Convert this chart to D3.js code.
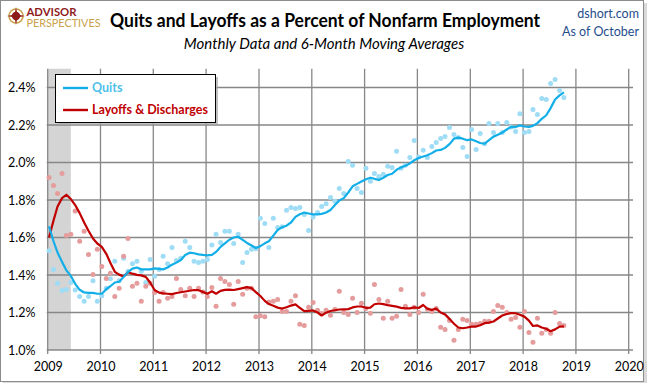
<!DOCTYPE html>
<html>
<head>
<meta charset="utf-8">
<script src="https://cdn.jsdelivr.net/npm/d3@7"></script>
<style>
  html, body { margin: 0; padding: 0; background: #fff; }
  svg { display: block; }
  text { font-family: Lato, "Open Sans", sans-serif; }
</style>
</head>
<body>
<svg id="chart" width="648" height="384"></svg>
<script>
// ---------------- DATA ----------------
const startYear = 2009, startMonth = 0;   // first observation: Jan 2009
const yearTicks = [2009, 2010, 2011, 2012, 2013, 2014, 2015, 2016, 2017, 2018, 2019, 2020];
const yTicks = [1.0, 1.2, 1.4, 1.6, 1.8, 2.0, 2.2, 2.4];
const recession = { start: [2009, 0], end: [2009, 5, 10] };

// Monthly quits rate (% of nonfarm employment)
const quitsMonthly = [
  1.53, 1.43, 1.356, 1.318, 1.323, 1.36, 1.32, 1.286, 1.26, 1.286, 1.37, 1.26,
  1.29, 1.33, 1.38, 1.473, 1.37, 1.49, 1.42, 1.46, 1.473, 1.42, 1.36, 1.483,
  1.393, 1.43, 1.50, 1.46, 1.547, 1.478, 1.49, 1.58, 1.547, 1.473, 1.467, 1.473,
  1.483, 1.56, 1.617, 1.574, 1.633, 1.633, 1.568, 1.617, 1.467, 1.52, 1.537, 1.54,
  1.703, 1.675, 1.547, 1.703, 1.654, 1.657, 1.745, 1.76, 1.755, 1.76, 1.723, 1.638,
  1.71, 1.734, 1.766, 1.78, 1.814, 1.793, 1.862, 1.835, 2.006, 1.985, 1.862, 1.84,
  1.969, 1.90, 1.942, 1.926, 1.937, 1.98, 1.974, 2.06, 1.969, 1.985, 2.027, 2.118,
  2.03, 2.065, 2.027, 2.086, 2.107, 2.128, 2.139, 2.187, 2.15, 2.133, 2.08, 2.032,
  2.176, 2.07, 2.155, 2.10, 2.208, 2.16, 2.208, 2.16, 2.213, 2.19, 2.166, 2.26,
  2.16, 2.166, 2.283, 2.256, 2.342, 2.336, 2.422, 2.443, 2.384, 2.347
];
// 6-month moving average of quits
const quitsAvg = [
  1.66, 1.58, 1.52, 1.47, 1.425, 1.395, 1.353, 1.321, 1.307, 1.305, 1.305, 1.30,
  1.30, 1.324, 1.34, 1.36, 1.364, 1.39, 1.415, 1.434, 1.44, 1.43, 1.43, 1.43,
  1.435, 1.433, 1.43, 1.44, 1.455, 1.466, 1.48, 1.507, 1.519, 1.516, 1.51, 1.507,
  1.505, 1.507, 1.523, 1.55, 1.569, 1.588, 1.60, 1.604, 1.587, 1.571, 1.557, 1.544,
  1.554, 1.569, 1.58, 1.61, 1.64, 1.655, 1.663, 1.68, 1.71, 1.724, 1.733, 1.728,
  1.723, 1.723, 1.726, 1.733, 1.747, 1.773, 1.797, 1.81, 1.84, 1.873, 1.886, 1.899,
  1.911, 1.919, 1.913, 1.907, 1.919, 1.933, 1.94, 1.961, 1.974, 1.983, 1.995, 2.012,
  2.024, 2.032, 2.039, 2.05, 2.064, 2.067, 2.078, 2.098, 2.127, 2.133, 2.127, 2.119,
  2.123, 2.113, 2.104, 2.10, 2.119, 2.138, 2.148, 2.16, 2.176, 2.19, 2.189, 2.198,
  2.192, 2.19, 2.195, 2.21, 2.233, 2.252, 2.29, 2.336, 2.358, 2.374
];
// Monthly layoffs & discharges rate
const layoffsMonthly = [
  1.92, 1.878, 1.835, 1.942, 1.611, 1.617, 1.741, 1.58, 1.633, 1.51, 1.403, 1.537,
  1.446, 1.382, 1.409, 1.286, 1.33, 1.50, 1.595, 1.34, 1.356, 1.26, 1.34, 1.356,
  1.307, 1.26, 1.307, 1.276, 1.286, 1.382, 1.323, 1.29, 1.33, 1.286, 1.33, 1.31,
  1.286, 1.334, 1.233, 1.382, 1.366, 1.35, 1.244, 1.366, 1.297, 1.33, 1.33, 1.178,
  1.183, 1.178, 1.256, 1.26, 1.27, 1.206, 1.206, 1.26, 1.29, 1.137, 1.131, 1.228,
  1.254, 1.212, 1.195, 1.212, 1.185, 1.217, 1.313, 1.20, 1.19, 1.276, 1.20, 1.249,
  1.222, 1.196, 1.35, 1.27, 1.169, 1.26, 1.169, 1.18, 1.323, 1.233, 1.19, 1.228,
  1.20, 1.297, 1.217, 1.206, 1.222, 1.121, 1.11, 1.158, 1.052, 1.11, 1.164, 1.158,
  1.137, 1.137, 1.142, 1.153, 1.153, 1.206, 1.238, 1.228, 1.20, 1.164, 1.174, 1.121,
  1.206, 1.094, 1.041, 1.169, 1.089, 1.11, 1.089, 1.20, 1.142, 1.131
];
// 6-month moving average of layoffs
const layoffsAvg = [
  1.60, 1.69, 1.765, 1.81, 1.828, 1.805, 1.773, 1.73, 1.68, 1.636, 1.595, 1.568,
  1.55, 1.513, 1.465, 1.417, 1.402, 1.392, 1.415, 1.407, 1.401, 1.398, 1.39, 1.36,
  1.32, 1.306, 1.302, 1.30, 1.298, 1.304, 1.308, 1.312, 1.316, 1.32, 1.319, 1.31,
  1.30, 1.313, 1.30, 1.315, 1.321, 1.322, 1.32, 1.325, 1.33, 1.335, 1.33, 1.309,
  1.288, 1.262, 1.245, 1.236, 1.226, 1.221, 1.228, 1.237, 1.243, 1.225, 1.207, 1.209,
  1.211, 1.20, 1.184, 1.199, 1.208, 1.212, 1.216, 1.217, 1.218, 1.227, 1.232, 1.232,
  1.225, 1.226, 1.244, 1.248, 1.245, 1.239, 1.235, 1.231, 1.225, 1.222, 1.222, 1.227,
  1.224, 1.24, 1.22, 1.214, 1.221, 1.20, 1.19, 1.166, 1.14, 1.12, 1.116, 1.12,
  1.125, 1.125, 1.132, 1.143, 1.146, 1.152, 1.168, 1.184, 1.192, 1.197, 1.196, 1.188,
  1.178, 1.157, 1.128, 1.131, 1.12, 1.113, 1.10, 1.11, 1.125, 1.126
];

const titleText = "Quits and Layoffs as a Percent of Nonfarm Employment";
const subtitleText = "Monthly Data and 6-Month Moving Averages";
const seriesNames = ["Quits", "Layoffs & Discharges"];

// ---------------- DRAWING ----------------
const svg = d3.select("#chart");
const plot = { left: 47.7, right: 633, top: 68.75, bottom: 350 };

const dateOf = i => new Date(startYear, startMonth + i, 10);

const x = d3.scaleTime()
  .domain([new Date(2009, 0, 1), new Date(2020, 0, 1)])
  .range([47.7, 628.7]);
const y = d3.scaleLinear().domain([1.0, 2.5]).range([plot.bottom, plot.top]);

const colors = {
  quitsLine: "#12aee8", quitsDot: "#9fdcf5", quitsText: "#4fbfea",
  layLine: "#c00000", layDot: "#e49c9c", layText: "#c00000",
  grid: "#878787"
};

// chart frame with shadow
svg.append("rect").attr("x", 3).attr("y", 3).attr("width", 644).attr("height", 380).attr("fill", "#d9d9d9");
svg.append("rect").attr("x", 0.5).attr("y", 0.5).attr("width", 643).attr("height", 381)
  .attr("fill", "#fff").attr("stroke", "#8c8c8c").attr("stroke-width", 1);

// Logo
const logo = svg.append("g");
const lc = { x: 16, y: 16 };
logo.append("circle").attr("cx", lc.x).attr("cy", lc.y).attr("r", 7)
  .attr("fill", "none").attr("stroke", "#c9a24a").attr("stroke-width", 1.6);
logo.append("circle").attr("cx", lc.x).attr("cy", lc.y).attr("r", 4.2).attr("fill", "#8e1b1b");
const star = [];
for (let k = 0; k < 8; k++) {
  const a = k * Math.PI / 4 - Math.PI / 2;
  const r = k % 2 === 0 ? 9 : 2;
  star.push([lc.x + r * Math.cos(a), lc.y + r * Math.sin(a)]);
}
logo.append("polygon").attr("points", star.map(p => p.join(",")).join(" ")).attr("fill", "#8e1b1b");
logo.append("text").attr("x", 26.5).attr("y", 15.5).text("ADVISOR")
  .attr("font-family", "'Liberation Sans', Arial, sans-serif")
  .attr("font-size", 11).attr("font-weight", 700).attr("fill", "#8e1b1b")
  .attr("textLength", 50).attr("lengthAdjust", "spacingAndGlyphs");
logo.append("text").attr("x", 26.5).attr("y", 27).text("PERSPECTIVES")
  .attr("font-family", "'Liberation Sans', Arial, sans-serif")
  .attr("font-size", 10.5).attr("font-weight", 400).attr("fill", "#c9a24a")
  .attr("textLength", 74).attr("lengthAdjust", "spacingAndGlyphs");

// Titles
svg.append("text").attr("x", 110).attr("y", 27).text(titleText)
  .attr("font-size", 19).attr("font-weight", 700).attr("fill", "#000")
  .attr("textLength", 430).attr("lengthAdjust", "spacingAndGlyphs");
svg.append("text").attr("x", 324).attr("y", 49).attr("text-anchor", "middle").text(subtitleText)
  .attr("font-size", 15).attr("font-style", "italic").attr("fill", "#000");
svg.append("text").attr("x", 639).attr("y", 18).attr("text-anchor", "end").text("dshort.com")
  .attr("font-size", 12.5).attr("fill", "#1f4e8c");
svg.append("text").attr("x", 639).attr("y", 36).attr("text-anchor", "end").text("As of October")
  .attr("font-size", 12.5).attr("fill", "#1f4e8c");

// Recession shading
svg.append("rect")
  .attr("x", x(new Date(...recession.start)))
  .attr("y", plot.top)
  .attr("width", x(new Date(...recession.end)) - x(new Date(...recession.start)))
  .attr("height", plot.bottom - plot.top)
  .attr("fill", "#d4d4d4");

// Gridlines
const grid = svg.append("g");
yTicks.forEach(v => {
  grid.append("line").attr("x1", plot.left - 1).attr("x2", plot.right)
    .attr("y1", y(v)).attr("y2", y(v)).attr("stroke", colors.grid).attr("stroke-width", 1.3);
});
yearTicks.forEach(yr => {
  const xx = x(new Date(yr, 0, 1));
  grid.append("line").attr("x1", xx).attr("x2", xx)
    .attr("y1", plot.top).attr("y2", plot.bottom + 4).attr("stroke", colors.grid).attr("stroke-width", 1.3);
});

// Axes labels
const yAxis = d3.axisLeft(y).tickValues(yTicks).tickFormat(d => d.toFixed(1) + "%").tickSize(0).tickPadding(0);
svg.append("g").attr("transform", `translate(35.5,0)`).call(yAxis)
  .call(g => g.select(".domain").remove())
  .call(g => g.selectAll("text").attr("font-size", 12.5).attr("fill", "#000").attr("font-family", "Lato, sans-serif").attr("dy", "0.35em"));

const xAxis = d3.axisBottom(x).tickValues(yearTicks.map(yr => new Date(yr, 0, 1)))
  .tickFormat(d3.timeFormat("%Y")).tickSize(0).tickPadding(0);
svg.append("g").attr("transform", `translate(0,${plot.bottom + 12})`).call(xAxis)
  .call(g => g.select(".domain").remove())
  .call(g => g.selectAll("text").attr("font-size", 12.5).attr("fill", "#000").attr("font-family", "Lato, sans-serif").attr("dy", "0.71em"));

// Dots
const dots = svg.append("g");
dots.selectAll(".qd").data(quitsMonthly).join("circle").attr("class", "qd")
  .attr("cx", (d, i) => x(dateOf(i))).attr("cy", d => y(d)).attr("r", 2.5).attr("fill", colors.quitsDot);
dots.selectAll(".ld").data(layoffsMonthly).join("circle").attr("class", "ld")
  .attr("cx", (d, i) => x(dateOf(i))).attr("cy", d => y(d)).attr("r", 2.5).attr("fill", colors.layDot);

// Lines
const line = d3.line().x((d, i) => x(dateOf(i))).y(d => y(d));
svg.append("path").datum(layoffsAvg).attr("d", line).attr("fill", "none")
  .attr("stroke", colors.layLine).attr("stroke-width", 2.2).attr("stroke-linejoin", "round");
svg.append("path").datum(quitsAvg).attr("d", line).attr("fill", "none")
  .attr("stroke", colors.quitsLine).attr("stroke-width", 2.2).attr("stroke-linejoin", "round");

// Legend
const lg = svg.append("g");
lg.append("rect").attr("x", 58).attr("y", 77).attr("width", 160).attr("height", 48).attr("fill", "#a6a6a6").attr("opacity", 0.7);
lg.append("rect").attr("x", 55.5).attr("y", 74.5).attr("width", 160).attr("height", 48)
  .attr("fill", "#fff").attr("stroke", "#000").attr("stroke-width", 1);
const legendItems = [
  { name: seriesNames[0], color: colors.quitsLine, text: colors.quitsText, yy: 88 },
  { name: seriesNames[1], color: colors.layLine, text: colors.layText, yy: 110 }
];
legendItems.forEach(it => {
  lg.append("line").attr("x1", 63).attr("x2", 88).attr("y1", it.yy).attr("y2", it.yy)
    .attr("stroke", it.color).attr("stroke-width", 2.4);
  lg.append("text").attr("x", 92).attr("y", it.yy).attr("dy", "0.35em").text(it.name)
    .attr("font-size", 12.5).attr("font-weight", 700).attr("fill", it.text);
});
</script>
</body>
</html>
